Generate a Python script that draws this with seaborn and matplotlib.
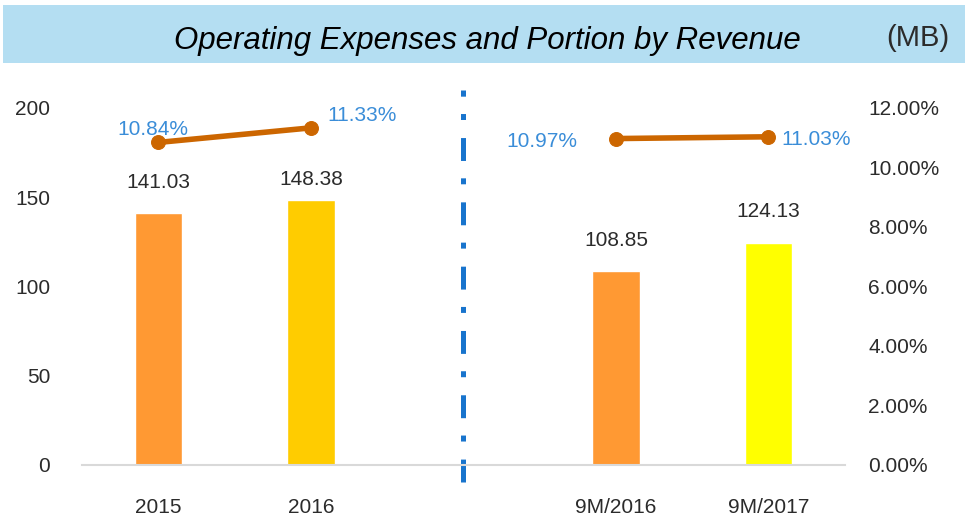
import pandas as pd
import numpy as np
import matplotlib
matplotlib.use("Agg")
import matplotlib.pyplot as plt
import seaborn as sns
from matplotlib.patches import Rectangle

# datos del grafico
periods = ["2015", "2016", "9M/2016", "9M/2017"]
expenses = [141.03, 148.38, 108.85, 124.13]
portion_pct = [10.84, 11.33, 10.97, 11.03]
bar_colors = ["#FF9933", "#FFCC00", "#FF9933", "#FFFF00"]
slot_order = ["2015", "2016", " ", "9M/2016", "9M/2017"]
left_ticks = [0, 50, 100, 150, 200]
right_ticks = [0, 2, 4, 6, 8, 10, 12]

sns.set_theme(style="white")
plt.rcParams["font.family"] = ["Liberation Sans", "DejaVu Sans"]
plt.rcParams["lines.scale_dashes"] = False

df = pd.DataFrame({"period": periods, "expenses": expenses, "pct": portion_pct})
txt_color = "#2B2B2B"

fig = plt.figure(figsize=(9.71, 5.29), dpi=100)
ax = fig.add_axes([0.0845, 0.121, 0.7855, 0.675])

# banda del titulo
fig.patches.append(Rectangle((0.003, 0.881), 0.991, 0.11, transform=fig.transFigure,
                             facecolor="#B4DEF2", edgecolor="none", zorder=0))
fig.text(0.502, 0.923, "Operating Expenses and Portion by Revenue", ha="center", va="center",
         fontsize=22.5, style="italic", color="black")
fig.text(0.945, 0.928, "(MB)", ha="center", va="center", fontsize=21, color=txt_color)

pal = dict(zip(periods, bar_colors))
sns.barplot(data=df, x="period", y="expenses", hue="period", palette=pal, order=slot_order,
            width=0.31, legend=False, ax=ax, saturation=1)
ax.set_xlim(-0.5, 4.5)
ax.set_ylim(0, 200)
ax.set_yticks(left_ticks)
ax.set_xlabel("")
ax.set_ylabel("")
ax.tick_params(axis="y", length=0, pad=23, labelsize=15, labelcolor=txt_color)
ax.tick_params(axis="x", length=0, pad=24, labelsize=15, labelcolor=txt_color)
for s in ["top", "right", "left"]:
    ax.spines[s].set_visible(False)
ax.spines["bottom"].set_color("#D9D9D9")
ax.spines["bottom"].set_linewidth(1.5)

# etiquetas de valores
xpos = [slot_order.index(p) for p in periods]
value_offsets = [22, 15, 22, 23]
for x, v, dy in zip(xpos, expenses, value_offsets):
    ax.annotate(f"{v:.2f}", (x, v), xytext=(0, dy), textcoords="offset points",
                ha="center", va="center", fontsize=15, color=txt_color)

# eje derecho con porcentaje
ax2 = ax.twinx()
ax2.set_ylim(0, 12)
ax2.set_yticks(right_ticks)
ax2.set_yticklabels([f"{t:.2f}%" for t in right_ticks])
ax2.tick_params(axis="y", length=0, pad=17, labelsize=15, labelcolor=txt_color)
for s in ax2.spines.values():
    s.set_visible(False)

line_color = "#CC6600"
for seg in [slice(0, 2), slice(2, 4)]:
    sns.lineplot(x=xpos[seg], y=portion_pct[seg], ax=ax2, color=line_color, linewidth=4,
                 marker="o", markersize=10, markeredgecolor=line_color)
ax2.set_xlim(-0.5, 4.5)

pct_offsets = [(-4, 9), (37, 9), (-53, -2), (34, -2)]
for x, v, off in zip(xpos, portion_pct, pct_offsets):
    ax2.annotate(f"{v:.2f}%", (x, v), xytext=off, textcoords="offset points",
                 ha="center", va="center", fontsize=15, color="#3A8DD8")

# linea separadora
sep, = ax.plot([2, 2], [-0.048, 1.05], transform=ax.get_xaxis_transform(), clip_on=False,
               color="#1874CD", linewidth=3.6, solid_capstyle="butt",
               linestyle=(0, (16.5, 13, 4.3, 12.5)))
sep.set_dash_capstyle("butt")

plt.savefig("out.png", dpi=100)
